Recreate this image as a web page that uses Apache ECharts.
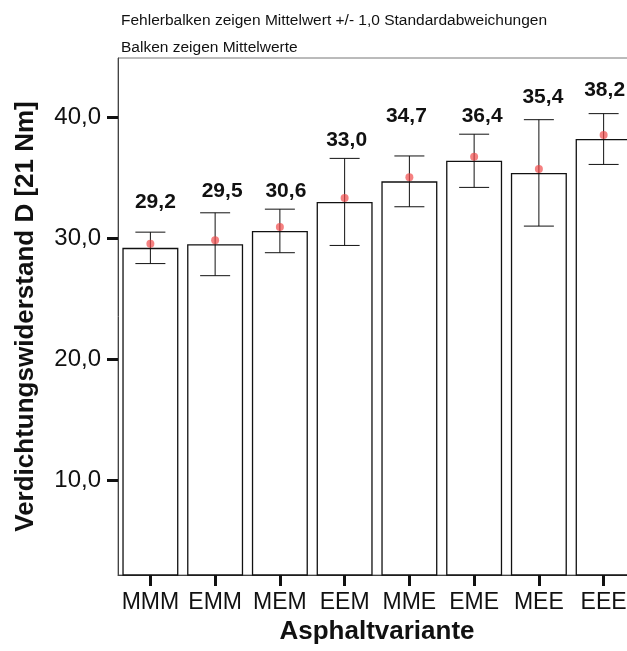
<!DOCTYPE html>
<html>
<head>
<meta charset="utf-8">
<script src="https://cdn.jsdelivr.net/npm/echarts@6/dist/echarts.min.js"></script>
<style>
  html, body { margin: 0; padding: 0; background: #fff; }
  #chart { width: 627px; height: 651px; }
</style>
</head>
<body>
<div id="chart"></div>
<script>
// Asphalt variants and their compaction resistance (mean, standard deviation)
const categories = ['MMM', 'EMM', 'MEM', 'EEM', 'MME', 'EME', 'MEE', 'EEE'];
const means = [29.2, 29.5, 30.6, 33.0, 34.7, 36.4, 35.4, 38.2];
const stdDevs = [1.3, 2.6, 1.8, 3.6, 2.1, 2.2, 4.4, 2.1];
const yTickValues = [10, 20, 30, 40];

// Pixel placement of each value label relative to the top centre of its bar
const labelShift = [[5, -46], [7, -53], [6, -40], [2, -62], [-3, -65], [8, -45], [4, -76], [1, -49]];

const fmt = v => v.toFixed(1).replace('.', ',');
const FONT = 'Liberation Sans, Arial, sans-serif';

const chart = echarts.init(document.getElementById('chart'), null, { renderer: 'canvas' });

const barData = means.map((m, i) => ({
  value: m,
  label: {
    position: ['50%', labelShift[i][1]],
    offset: [labelShift[i][0], 0]
  }
}));

// Error bars span mean ± one standard deviation
const errData = means.map((m, i) => [i, m - stdDevs[i], m + stdDevs[i]]);

chart.setOption({
  animation: false,
  backgroundColor: '#fff',
  title: [
    {
      text: 'Fehlerbalken zeigen Mittelwert +/- 1,0 Standardabweichungen',
      left: 116, top: 8,
      textStyle: { fontFamily: FONT, fontSize: 15.5, fontWeight: 'normal', color: '#111' }
    },
    {
      text: 'Balken zeigen Mittelwerte',
      left: 116, top: 35,
      textStyle: { fontFamily: FONT, fontSize: 15.5, fontWeight: 'normal', color: '#111' }
    }
  ],
  grid: {
    left: 118, right: -9, top: 58, bottom: 76,
    outerBoundsMode: 'none', containLabel: false,
    show: true, borderColor: '#777', borderWidth: 1, backgroundColor: 'transparent'
  },
  xAxis: {
    type: 'category',
    data: categories,
    name: 'Asphaltvariante',
    nameLocation: 'middle',
    nameGap: 40,
    nameTextStyle: { fontFamily: FONT, fontSize: 26, fontWeight: 'bold', color: '#111' },
    axisLine: { show: true, lineStyle: { color: '#444', width: 1 } },
    axisTick: { show: true, alignWithLabel: true, length: 11, lineStyle: { color: '#111', width: 3 } },
    axisLabel: { fontFamily: FONT, fontSize: 23, color: '#111', margin: 16, interval: 0 }
  },
  yAxis: {
    type: 'value',
    min: 2.15,
    max: 44.9,
    name: 'Verdichtungswiderstand D [21 Nm]',
    nameLocation: 'middle',
    nameGap: 79,
    nameTextStyle: { fontFamily: FONT, fontSize: 26, fontWeight: 'bold', color: '#111' },
    splitLine: { show: false },
    axisLine: { show: true, lineStyle: { color: '#444', width: 1 } },
    axisTick: { show: true, length: 11, customValues: yTickValues, lineStyle: { color: '#111', width: 3 } },
    axisLabel: {
      fontFamily: FONT, fontSize: 24, color: '#111', margin: 17,
      customValues: yTickValues,
      formatter: v => fmt(v)
    }
  },
  series: [
    {
      type: 'bar',
      data: barData,
      barWidth: 56,
      itemStyle: { color: '#fff', borderColor: '#111', borderWidth: 1.3 },
      label: {
        show: true,
        align: 'center',
        verticalAlign: 'middle',
        fontFamily: FONT, fontSize: 21, fontWeight: 'bold', color: '#111',
        formatter: p => fmt(p.value)
      },
      z: 2
    },
    {
      type: 'custom',
      data: errData,
      encode: { x: 0, y: [1, 2] },
      renderItem: (params, api) => {
        const x = api.value(0);
        const lo = api.coord([x, api.value(1)]);
        const hi = api.coord([x, api.value(2)]);
        const half = 15;
        const style = { stroke: '#111', lineWidth: 1 };
        return {
          type: 'group',
          children: [
            { type: 'line', shape: { x1: hi[0], y1: hi[1], x2: lo[0], y2: lo[1] }, style },
            { type: 'line', shape: { x1: hi[0] - half, y1: hi[1], x2: hi[0] + half, y2: hi[1] }, style },
            { type: 'line', shape: { x1: lo[0] - half, y1: lo[1], x2: lo[0] + half, y2: lo[1] }, style }
          ]
        };
      },
      z: 3
    },
    {
      type: 'scatter',
      data: means,
      symbol: 'circle',
      symbolSize: 8,
      symbolOffset: [0, -4],
      itemStyle: { color: 'rgba(240, 70, 70, 0.85)' },
      z: 4
    }
  ]
});
</script>
</body>
</html>
